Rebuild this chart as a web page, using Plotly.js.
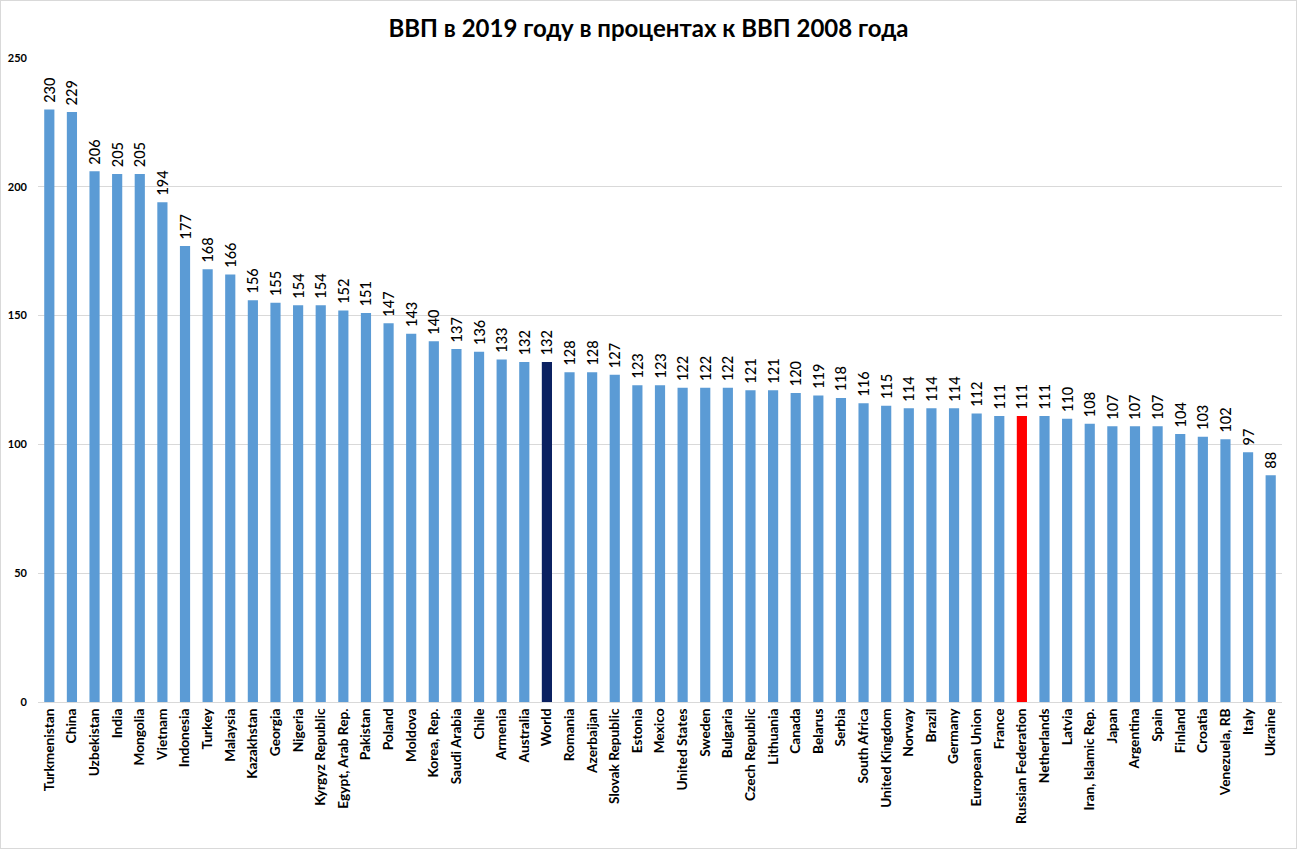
<!DOCTYPE html>
<html>
<head>
<meta charset="utf-8">
<script src="https://cdn.plot.ly/plotly-3.0.1.min.js"></script>
<style>
html,body{margin:0;padding:0;background:#fff;}
#chart{width:1297px;height:849px;box-sizing:border-box;border:1px solid #d9d9d9;}
</style>
</head>
<body>
<div id="chart"></div>
<script>
const countries = ["Turkmenistan","China","Uzbekistan","India","Mongolia","Vietnam","Indonesia","Turkey","Malaysia","Kazakhstan","Georgia","Nigeria","Kyrgyz Republic","Egypt, Arab Rep.","Pakistan","Poland","Moldova","Korea, Rep.","Saudi Arabia","Chile","Armenia","Australia","World","Romania","Azerbaijan","Slovak Republic","Estonia","Mexico","United States","Sweden","Bulgaria","Czech Republic","Lithuania","Canada","Belarus","Serbia","South Africa","United Kingdom","Norway","Brazil","Germany","European Union","France","Russian Federation","Netherlands","Latvia","Iran, Islamic Rep.","Japan","Argentina","Spain","Finland","Croatia","Venezuela, RB","Italy","Ukraine"];
const gdpPct = [230,229,206,205,205,194,177,168,166,156,155,154,154,152,151,147,143,140,137,136,133,132,132,128,128,127,123,123,122,122,122,121,121,120,119,118,116,115,114,114,114,112,111,111,111,110,108,107,107,107,104,103,102,97,88];
const yTicks = [0,50,100,150,200,250];

const colors = countries.map(c => c === "World" ? "#0b2161" : (c === "Russian Federation" ? "#ff0000" : "#5b9bd5"));

const trace = {
  type: "bar",
  x: countries,
  y: gdpPct,
  marker: {color: colors},
  texttemplate: "\u00a0%{y}",
  textposition: "outside",
  textangle: -90,
  constraintext: "none",
  cliponaxis: false,
  textfont: {family: "Lato, 'Open Sans', sans-serif", size: 14.5, color: "#000", weight: 500},
  hoverinfo: "x+y"
};

const layout = {
  width: 1295,
  height: 847,
  margin: {l: 37, r: 14, t: 57, b: 146},
  paper_bgcolor: "#fff",
  plot_bgcolor: "#fff",
  bargap: 0.55,
  showlegend: false,
  title: {
    text: "<b>ВВП в 2019 году в процентах к ВВП 2008 года</b>",
    font: {family: "Lato, 'Open Sans', sans-serif", size: 24, color: "#000"},
    x: 0.5, xanchor: "center", y: 0.967, yanchor: "middle"
  },
  xaxis: {
    type: "category",
    tickangle: -90,
    tickfont: {family: "Lato, 'Open Sans', sans-serif", size: 13.7, color: "#000", weight: "bold"},
    showline: true, linecolor: "#d9d9d9", linewidth: 1,
    ticks: "", showgrid: false,
    automargin: false
  },
  yaxis: {
    range: [0, 250],
    tickvals: yTicks,
    ticktext: yTicks.map(String),
    tickfont: {family: "Lato, 'Open Sans', sans-serif", size: 11, color: "#000", weight: "bold"},
    showgrid: true, gridcolor: "#d9d9d9", gridwidth: 1,
    zeroline: false, showline: false, ticks: "",
    ticklabelstandoff: 10,
    automargin: false
  }
};

Plotly.newPlot("chart", [trace], layout, {displayModeBar: false, staticPlot: true});
</script>
</body>
</html>
